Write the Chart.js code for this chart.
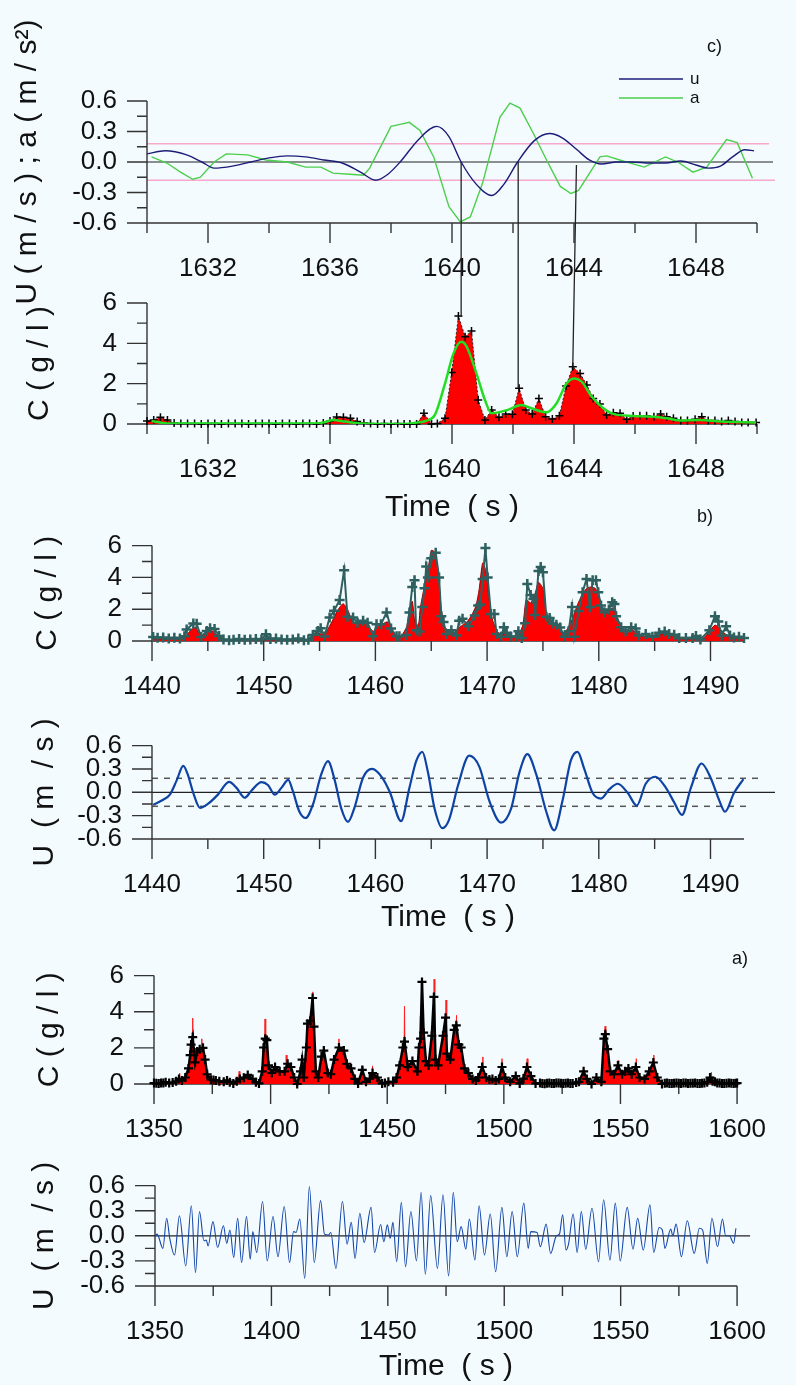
<!DOCTYPE html>
<html lang="en">
<head>
<meta charset="UTF-8">
<title>C and U time series</title>
<script src="https://cdn.jsdelivr.net/npm/chart.js"></script>
<style>
  body { margin: 0; background: #f3fbfe; }
  #fig { position: relative; width: 796px; height: 1385px; overflow: hidden; background: #f3fbfe; }
  #fig canvas { position: absolute; left: 0; }
</style>
</head>
<body>
<div id="fig">
  <canvas id="cU" width="796" height="330" style="top:0px"></canvas>
  <canvas id="cC" width="796" height="400" style="top:140px"></canvas>
  <canvas id="bC" width="796" height="210" style="top:500px"></canvas>
  <canvas id="bU" width="796" height="240" style="top:700px"></canvas>
  <canvas id="aC" width="796" height="220" style="top:930px"></canvas>
  <canvas id="aU" width="796" height="245" style="top:1140px"></canvas>
</div>
<script>
// ---------- panel c) 1630-1650 s ----------
const uTimesC = [1630.0, 1630.6, 1631.3, 1631.8, 1632.2, 1632.8, 1633.4, 1634.0, 1634.6, 1635.2, 1635.8, 1636.4, 1637.0, 1637.5, 1637.9, 1638.3, 1638.9, 1639.5, 1639.9, 1640.3, 1640.8, 1641.3, 1641.7, 1642.15, 1642.7, 1643.2, 1643.6, 1644.1, 1644.5, 1644.9, 1645.4, 1645.9, 1646.5, 1647.0, 1647.5, 1648.0, 1648.4, 1648.8, 1649.2, 1649.6, 1649.9];
const uValsC = [0.08, 0.11, 0.07, 0.0, -0.06, -0.04, 0.0, 0.04, 0.06, 0.05, 0.02, -0.01, -0.1, -0.18, -0.12, 0.0, 0.22, 0.35, 0.25, 0.0, -0.22, -0.33, -0.22, 0.0, 0.21, 0.28, 0.24, 0.12, 0.02, -0.02, 0.0, 0.0, -0.01, -0.01, 0.01, -0.03, -0.06, -0.04, 0.05, 0.12, 0.11];
const aTimesC = [1630.15, 1630.65, 1631.1, 1631.5, 1631.75, 1632.2, 1632.6, 1633.3, 1633.9, 1634.6, 1635.2, 1635.7, 1636.1, 1636.65, 1637.1, 1637.3, 1638.0, 1638.3, 1638.6, 1638.95, 1639.4, 1639.9, 1640.27, 1640.6, 1641.0, 1641.57, 1641.9, 1642.23, 1642.67, 1643.1, 1643.55, 1643.9, 1644.15, 1644.85, 1645.07, 1645.5, 1646.3, 1647.0, 1647.4, 1647.9, 1648.35, 1649.0, 1649.35, 1649.85];
const aValsC = [0.05, -0.01, -0.1, -0.17, -0.15, 0.0, 0.08, 0.07, 0.02, 0.0, -0.05, -0.05, -0.11, -0.12, -0.13, -0.06, 0.35, 0.37, 0.39, 0.31, 0.05, -0.44, -0.59, -0.54, -0.21, 0.44, 0.58, 0.53, 0.28, 0.02, -0.24, -0.31, -0.28, 0.05, 0.06, 0.02, -0.05, 0.05, 0.0, -0.1, -0.05, 0.22, 0.19, -0.16];
const cTimesC = [1630.0, 1630.22, 1630.44, 1630.67, 1630.89, 1631.11, 1631.33, 1631.56, 1631.78, 1632.0, 1632.22, 1632.44, 1632.67, 1632.89, 1633.11, 1633.33, 1633.56, 1633.78, 1634.0, 1634.22, 1634.44, 1634.67, 1634.89, 1635.11, 1635.33, 1635.56, 1635.78, 1636.0, 1636.22, 1636.44, 1636.67, 1636.89, 1637.11, 1637.33, 1637.56, 1637.78, 1638.0, 1638.22,
  1638.43, 1638.62, 1638.84, 1639.08, 1639.33, 1639.52, 1639.77, 1639.99, 1640.21, 1640.43, 1640.64, 1640.86, 1641.08, 1641.30, 1641.54, 1641.76, 1641.98, 1642.20, 1642.42, 1642.63, 1642.85, 1643.07, 1643.29, 1643.52, 1643.74, 1643.96, 1644.20, 1644.42, 1644.63, 1644.85, 1645.07, 1645.29, 1645.51, 1645.73, 1645.94, 1646.16, 1646.38, 1646.62, 1646.84, 1647.04, 1647.26, 1647.50, 1647.72, 1647.97, 1648.19, 1648.40, 1648.62, 1648.84, 1649.06, 1649.28, 1649.50, 1649.71, 1649.97];
const cValsC = [0.15, 0.2, 0.33, 0.2, 0.05, 0.02, 0.03, 0.02, 0.0, 0.03, 0.02, 0.0, 0.03, 0.02, 0.03, 0.0, 0.02, 0.03, 0.02, 0.0, 0.03, 0.02, 0.0, 0.02, 0.03, 0.0, 0.05, 0.15, 0.35, 0.33, 0.28, 0.12, 0.05, 0.02, 0.0, 0.02, 0.0, 0.02,
  0.0, 0.0, 0.0, 0.53, 0.0, 0.03, 0.28, 2.55, 5.35, 4.33, 4.61, 1.19, 0.2, 0.69, 0.33, 0.5, 0.48, 1.77, 0.69, 0.5, 1.27, 0.36, 0.25, 0.41, 1.88, 2.84, 2.51, 1.93, 1.27, 0.99, 0.45, 0.56, 0.53, 0.23, 0.4, 0.41, 0.41, 0.36, 0.5, 0.36, 0.28, 0.17, 0.17, 0.23, 0.36, 0.17, 0.17, 0.12, 0.17, 0.12, 0.08, 0.08, 0.08];
const smoothTimesC = [1630.15, 1630.75, 1631.5, 1632.5, 1633.5, 1634.5, 1635.5, 1635.8, 1636.1, 1636.5, 1637.0, 1638.3, 1638.9, 1639.17, 1639.44, 1639.77, 1640.05, 1640.3, 1640.48, 1640.8, 1641.08, 1641.3, 1641.8, 1642.28, 1642.6, 1643.1, 1643.43, 1643.76, 1644.03, 1644.25, 1644.58, 1644.96, 1645.29, 1645.94, 1646.6, 1647.04, 1647.48, 1648.13, 1648.8, 1649.97];
const smoothValsC = [0.15, 0.02, 0.02, 0.02, 0.02, 0.02, 0.03, 0.08, 0.2, 0.12, 0.03, 0.0, 0.08, 0.17, 0.45, 2.0, 3.5, 4.08, 3.84, 2.51, 1.19, 0.53, 0.69, 0.94, 0.78, 0.58, 1.03, 2.02, 2.26, 2.1, 1.36, 0.78, 0.5, 0.4, 0.36, 0.28, 0.17, 0.2, 0.12, 0.08];
// vertical links: time at the u/a panel, time at the C panel, u level, C level
const linkTimesTop = [1640.3, 1642.17, 1644.08];
const linkTimesBottom = [1640.3, 1642.17, 1643.96];
const linkU = [0, 0, -0.03];
const linkC = [5.3, 1.78, 2.84];
const xLabelsC = [1632, 1636, 1640, 1644, 1648];
const xMinorC = [1630, 1634, 1638, 1642, 1646, 1650];

// ---------- panel b) 1440-1493 s ----------
const teTimesB = [1440.1, 1440.5, 1441.0, 1441.5, 1442.0, 1442.5, 1442.9, 1443.1, 1443.7, 1444.0, 1444.4, 1444.9, 1445.2, 1445.6, 1446.0, 1446.4, 1446.9, 1447.3, 1447.8, 1448.3, 1448.8, 1449.3, 1449.8, 1450.2, 1450.6, 1451.1, 1451.6, 1452.1, 1452.6, 1453.1, 1453.6, 1454.0, 1454.4, 1454.85, 1455.1, 1455.45, 1455.9, 1456.3, 1456.8, 1457.2, 1457.5, 1458.0, 1458.4, 1458.9, 1459.3, 1459.8, 1460.1, 1460.5, 1461.0, 1461.4, 1461.9, 1462.15, 1462.75, 1463.05, 1463.3, 1463.5, 1463.65, 1463.95, 1464.2, 1464.4, 1464.55, 1464.7, 1465.0, 1465.4, 1465.7, 1465.9, 1466.1, 1466.35, 1466.8, 1467.25, 1467.5, 1467.8, 1468.3, 1468.9, 1469.2, 1469.4, 1469.6, 1469.85, 1470.05, 1470.35, 1470.65, 1470.85, 1471.25, 1471.5, 1471.75, 1472.15, 1472.6, 1472.8, 1473.1, 1473.4, 1473.6, 1473.9, 1474.15, 1474.3, 1474.6, 1474.8, 1475.0, 1475.3, 1475.6, 1475.9, 1476.2, 1476.55, 1476.9, 1477.3, 1477.6, 1477.8, 1478.2, 1478.55, 1478.9, 1479.2, 1479.45, 1479.75, 1479.95, 1480.2, 1480.5, 1480.9, 1481.2, 1481.4, 1481.55, 1482.0, 1482.4, 1482.9, 1483.3, 1483.6, 1484.2, 1484.8, 1485.4, 1485.9, 1486.3, 1486.75, 1487.2, 1487.8, 1488.4, 1488.7, 1489.1, 1489.9, 1490.4, 1490.7, 1491.0, 1491.4, 1491.75, 1492.1, 1492.55, 1493.0];
const teValsB = [0.25, 0.2, 0.22, 0.15, 0.2, 0.15, 0.3, 0.73, 1.1, 1.08, 0.25, 0.63, 0.8, 0.75, 0.32, 0.1, 0.05, 0.08, 0.12, 0.08, 0.1, 0.12, 0.1, 0.42, 0.12, 0.15, 0.1, 0.08, 0.1, 0.15, 0.05, 0.08, 0.38, 0.63, 0.8, 0.29, 1.48, 1.9, 2.58, 4.45, 1.53, 1.48, 1.15, 1.27, 1.15, 0.3, 1.05, 1.05, 1.8, 0.78, 0.3, 0.3, 0.38, 1.8, 3.4, 3.82, 0.68, 0.6, 2.14, 3.32, 4.68, 4.0, 5.2, 5.55, 4.0, 1.55, 1.2, 0.44, 0.68, 0.35, 1.28, 1.4, 0.93, 1.6, 2.24, 2.3, 3.9, 5.85, 4.0, 1.7, 1.7, 0.44, 0.27, 0.86, 0.52, 0.27, 0.27, 0.61, 0.19, 1.12, 3.58, 2.9, 2.64, 1.63, 4.4, 4.66, 4.32, 1.53, 1.44, 1.1, 1.02, 0.85, 0.27, 0.61, 2.14, 0.27, 1.88, 3.07, 3.9, 2.14, 3.82, 3.82, 3.07, 2.23, 1.81, 1.98, 2.44, 2.32, 1.56, 0.86, 0.61, 0.86, 0.78, 0.35, 0.44, 0.27, 0.52, 0.6, 0.44, 0.39, 0.19, 0.19, 0.19, 0.32, 0.1, 0.68, 1.56, 1.22, 0.35, 0.93, 0.35, 0.22, 0.27, 0.19];
const redTimesB = [1440.0, 1441.0, 1442.0, 1443.0, 1443.5, 1443.9, 1444.3, 1444.7, 1445.1, 1445.5, 1446.0, 1446.5, 1448.0, 1450.0, 1450.2, 1450.5, 1452.0, 1454.0, 1454.2, 1454.7, 1455.2, 1455.6, 1456.1, 1456.6, 1457.1, 1457.5, 1457.9, 1458.3, 1458.8, 1459.3, 1459.8, 1460.2, 1460.7, 1461.1, 1461.5, 1461.9, 1462.3, 1462.8, 1463.0, 1463.3, 1463.6, 1463.9, 1464.0, 1464.4, 1464.8, 1465.0, 1465.3, 1465.6, 1465.9, 1466.2, 1466.6, 1467.0, 1467.4, 1467.8, 1468.2, 1468.6, 1469.0, 1469.3, 1469.6, 1469.9, 1470.2, 1470.5, 1470.9, 1471.3, 1471.8, 1472.3, 1472.8, 1473.2, 1473.5, 1473.9, 1474.3, 1474.6, 1475.0, 1475.3, 1475.7, 1476.1, 1476.5, 1476.9, 1477.3, 1477.7, 1478.1, 1478.5, 1478.9, 1479.3, 1479.7, 1480.1, 1480.5, 1480.9, 1481.2, 1481.6, 1482.0, 1482.5, 1483.0, 1483.5, 1484.0, 1484.6, 1485.2, 1485.8, 1486.4, 1487.0, 1487.6, 1488.2, 1488.8, 1489.4, 1489.9, 1490.4, 1490.8, 1491.2, 1491.7, 1492.2, 1493.0];
const redValsB = [0.15, 0.12, 0.15, 0.3, 0.7, 0.85, 0.4, 0.4, 0.65, 0.6, 0.25, 0.1, 0.06, 0.08, 0.3, 0.08, 0.06, 0.08, 0.2, 0.5, 0.45, 0.6, 1.2, 1.9, 2.35, 2.0, 1.3, 1.0, 1.2, 1.0, 0.6, 0.9, 1.1, 1.2, 0.7, 0.3, 0.3, 0.9, 1.8, 2.5, 0.8, 1.2, 2.0, 3.5, 4.9, 5.7, 5.6, 4.5, 2.0, 0.9, 0.6, 0.5, 0.8, 1.0, 1.2, 1.6, 2.2, 3.3, 4.9, 4.4, 2.5, 1.3, 0.6, 0.4, 0.5, 0.3, 0.4, 1.0, 2.6, 2.4, 3.0, 3.7, 3.3, 1.8, 1.3, 1.0, 0.8, 0.5, 0.9, 1.5, 2.3, 2.9, 3.3, 3.4, 3.3, 2.6, 1.8, 1.8, 2.1, 1.6, 0.9, 0.5, 0.7, 0.4, 0.3, 0.3, 0.35, 0.45, 0.35, 0.2, 0.1, 0.1, 0.15, 0.2, 0.6, 1.0, 0.8, 0.5, 0.3, 0.2, 0.2];
const uTimesB = [1440.1, 1441.0, 1441.6, 1442.2, 1442.8, 1443.2, 1443.7, 1444.3, 1445.0, 1445.9, 1446.9, 1447.55, 1448.3, 1448.9, 1449.8, 1450.4, 1451.0, 1451.6, 1452.2, 1452.6, 1453.2, 1453.75, 1454.4, 1455.15, 1455.75, 1456.35, 1456.95, 1457.55, 1458.1, 1458.9, 1459.7, 1460.65, 1461.3, 1462.3, 1463.05, 1463.65, 1464.2, 1464.7, 1465.3, 1466.0, 1466.6, 1467.4, 1468.4, 1469.3, 1470.2, 1471.25, 1472.15, 1472.9, 1473.6, 1474.4, 1475.3, 1476.0, 1476.75, 1477.5, 1478.1, 1478.7, 1479.45, 1480.2, 1480.95, 1481.7, 1482.6, 1483.4, 1484.2, 1485.05, 1486.0, 1486.75, 1487.45, 1488.25, 1489.2, 1490.0, 1490.8, 1491.3, 1492.1, 1492.95];
const uValsB = [-0.16, -0.095, -0.03, 0.15, 0.34, 0.23, -0.01, -0.2, -0.15, -0.03, 0.135, 0.06, -0.07, 0.02, 0.13, 0.09, -0.03, 0.06, 0.16, 0.02, -0.25, -0.33, -0.16, 0.23, 0.4, 0.16, -0.21, -0.38, -0.21, 0.19, 0.3, 0.18, 0.0, -0.37, 0.06, 0.4, 0.52, 0.26, -0.21, -0.46, -0.35, 0.09, 0.47, 0.33, -0.11, -0.39, -0.21, 0.26, 0.49, 0.23, -0.25, -0.49, -0.11, 0.41, 0.52, 0.3, -0.01, -0.08, 0.04, 0.11, -0.01, -0.17, 0.11, 0.2, 0.06, -0.13, -0.29, 0.06, 0.37, 0.19, -0.11, -0.25, -0.01, 0.17];
const xLabelsB = [1440, 1450, 1460, 1470, 1480, 1490];
const xMinorB = [1445, 1455, 1465, 1475, 1485];

// ---------- panel a) 1350-1600 s ----------
const blackTimesA = [1350.0, 1351.0, 1352.0, 1353.0, 1354.0, 1355.0, 1356.5, 1358.0, 1359.5, 1360.7, 1362.0, 1363.4, 1364.8, 1365.5, 1365.9, 1366.6, 1367.1, 1367.6, 1368.5, 1369.6, 1371.0, 1371.9, 1372.8, 1374.4, 1375.5, 1376.5, 1378.0, 1379.9, 1381.3, 1382.5, 1384.0, 1385.5, 1386.8, 1388.5, 1390.2, 1392.3, 1393.7, 1395.0, 1396.4, 1397.0, 1397.7, 1398.4, 1399.1, 1400.5, 1401.9, 1403.9, 1406.0, 1407.3, 1408.7, 1410.1, 1411.4, 1412.8, 1413.5, 1414.2, 1415.3, 1415.8, 1417.0, 1418.0, 1418.6, 1419.4, 1420.4, 1421.8, 1422.8, 1424.5, 1425.8, 1427.2, 1429.3, 1431.4, 1432.7, 1434.5, 1436.1, 1437.5, 1439.3, 1440.9, 1442.5, 1443.7, 1445.8, 1447.8, 1449.0, 1450.5, 1452.5, 1454.0, 1455.3, 1456.7, 1457.4, 1458.8, 1460.8, 1462.9, 1463.6, 1464.3, 1464.9, 1465.6, 1466.6, 1467.7, 1469.1, 1470.0, 1470.7, 1471.8, 1473.9, 1475.0, 1475.6, 1477.0, 1478.7, 1479.6, 1480.7, 1481.7, 1483.1, 1484.8, 1486.6, 1488.0, 1489.0, 1490.7, 1492.4, 1493.8, 1495.1, 1496.5, 1497.9, 1499.2, 1500.6, 1502.7, 1505.1, 1506.8, 1508.4, 1509.9, 1511.6, 1513.6, 1515.5, 1516.5, 1517.5, 1518.5, 1519.5, 1520.5, 1521.5, 1522.5, 1523.5, 1524.5, 1525.5, 1526.5, 1527.5, 1528.5, 1529.5, 1531.0, 1532.2, 1534.2, 1535.6, 1537.6, 1539.7, 1541.8, 1542.9, 1543.5, 1544.5, 1545.6, 1547.2, 1548.9, 1550.7, 1552.0, 1553.4, 1554.8, 1556.6, 1558.2, 1560.3, 1562.3, 1564.1, 1565.8, 1567.8, 1569.0, 1570.0, 1571.0, 1572.0, 1573.0, 1574.0, 1575.0, 1576.0, 1577.0, 1578.0, 1579.0, 1580.0, 1581.0, 1582.0, 1583.0, 1584.0, 1585.0, 1586.0, 1587.2, 1588.4, 1589.5, 1590.5, 1591.5, 1592.5, 1593.5, 1594.5, 1595.5, 1596.5, 1597.5, 1598.5, 1599.3, 1600.0];
const blackValsA = [0.05, 0.04, 0.03, 0.05, 0.05, 0.1, 0.05, 0.08, 0.15, 0.28, 0.2, 0.36, 0.86, 1.6, 2.18, 2.6, 1.8, 1.2, 1.8, 1.93, 2.0, 1.35, 0.54, 0.24, 0.22, 0.2, 0.15, 0.12, 0.2, 0.1, 0.03, 0.15, 0.28, 0.35, 0.5, 0.28, 0.1, 0.03, 0.7, 2.02, 2.51, 2.43, 1.03, 0.61, 0.94, 0.7, 0.7, 1.12, 0.94, 0.36, 0.0, 0.7, 1.35, 0.36, 2.02, 3.34, 3.5, 4.76, 3.18, 0.7, 0.36, 1.52, 1.85, 0.61, 0.54, 1.35, 2.02, 1.85, 1.12, 0.86, 0.28, 0.03, 0.78, 0.12, 0.3, 0.61, 0.36, 0.03, 0.06, 0.12, 0.1, 0.36, 1.03, 2.02, 2.35, 0.94, 1.27, 0.7, 2.02, 2.51, 5.65, 2.84, 1.27, 1.03, 2.67, 4.82, 1.35, 1.03, 2.67, 3.67, 1.68, 1.35, 3.0, 3.25, 2.18, 2.02, 0.86, 0.61, 0.28, 0.2, 0.36, 0.94, 0.36, 0.25, 0.28, 0.2, 0.28, 0.94, 0.36, 0.12, 0.44, 0.03, 0.3, 0.94, 0.44, 0.03, 0.05, 0.03, 0.02, 0.04, 0.05, 0.03, 0.03, 0.05, 0.05, 0.04, 0.03, 0.04, 0.05, 0.03, 0.03, 0.08, 0.12, 0.7, 0.28, 0.0, 0.36, 0.12, 2.51, 2.76, 1.93, 0.7, 0.54, 1.03, 0.54, 0.7, 0.86, 0.54, 0.94, 0.36, 0.28, 0.7, 1.19, 0.36, 0.0, 0.04, 0.05, 0.03, 0.03, 0.04, 0.05, 0.04, 0.03, 0.05, 0.05, 0.03, 0.04, 0.04, 0.05, 0.03, 0.03, 0.04, 0.05, 0.1, 0.36, 0.15, 0.12, 0.06, 0.05, 0.03, 0.03, 0.04, 0.05, 0.04, 0.03, 0.04, 0.05];
const spikeTimesA = [1360.8, 1361.0, 1361.2, 1366.3, 1366.6, 1366.9, 1370.2, 1370.5, 1370.8, 1386.2, 1386.5, 1386.8, 1397.3, 1397.6, 1397.9, 1406.4, 1406.7, 1407.0, 1417.8, 1418.1, 1418.4, 1429.0, 1429.3, 1429.6, 1439.0, 1439.3, 1439.6, 1443.4, 1443.7, 1444.0, 1457.1, 1457.4, 1457.7, 1463.9, 1464.2, 1464.5, 1464.8, 1465.1, 1465.4, 1469.8, 1470.1, 1470.4, 1474.9, 1475.2, 1475.5, 1479.4, 1479.7, 1480.0, 1490.7, 1491.0, 1491.3, 1498.9, 1499.2, 1499.5, 1509.7, 1510.0, 1510.3, 1543.1, 1543.4, 1543.7, 1548.7, 1549.0, 1549.3, 1556.5, 1556.8, 1557.1, 1564.0, 1564.3, 1564.6, 1588.7, 1589.0, 1589.3];
const spikeValsA = [0, 0.6, 0, 0, 3.65, 0, 0, 2.5, 0, 0, 0.7, 0, 0, 3.6, 0, 0, 1.6, 0, 0, 5.1, 0, 0, 2.5, 0, 0, 1.0, 0, 0, 1.0, 0, 0, 4.3, 0, 0, 3.75, 0, 0, 5.8, 0, 0, 5.8, 0, 0, 4.65, 0, 0, 3.8, 0, 0, 1.5, 0, 0, 1.4, 0, 0, 1.4, 0, 0, 3.2, 0, 0, 1.3, 0, 0, 1.4, 0, 0, 1.6, 0, 0, 0.65, 0];
const uTimesA = [1350.2, 1350.9, 1353.4, 1355.0, 1356.4, 1358.4, 1360.5, 1363.2, 1365.6, 1367.4, 1369.1, 1371.0, 1372.0, 1372.8, 1374.9, 1376.9, 1379.4, 1380.8, 1382.2, 1383.8, 1385.5, 1387.2, 1389.3, 1390.9, 1392.0, 1393.7, 1396.2, 1398.2, 1400.7, 1402.8, 1405.5, 1407.8, 1409.5, 1410.6, 1412.2, 1414.3, 1416.3, 1418.4, 1421.1, 1422.8, 1424.5, 1425.5, 1427.7, 1430.5, 1432.5, 1434.3, 1435.9, 1438.0, 1439.8, 1442.8, 1444.3, 1446.9, 1448.3, 1449.8, 1451.0, 1452.2, 1453.8, 1455.8, 1457.6, 1459.9, 1462.3, 1464.3, 1466.1, 1468.4, 1471.3, 1473.7, 1476.1, 1478.1, 1479.8, 1481.5, 1483.5, 1485.0, 1487.4, 1489.2, 1491.5, 1494.0, 1496.3, 1499.0, 1501.1, 1503.4, 1505.6, 1508.4, 1510.3, 1511.4, 1514.1, 1515.5, 1518.0, 1519.9, 1522.4, 1523.7, 1525.1, 1526.5, 1527.6, 1529.6, 1531.3, 1533.1, 1535.0, 1537.7, 1540.5, 1542.7, 1545.4, 1547.7, 1549.8, 1552.8, 1555.3, 1557.3, 1559.7, 1562.6, 1564.2, 1566.5, 1567.9, 1569.0, 1571.5, 1572.4, 1573.8, 1576.1, 1578.6, 1581.6, 1583.8, 1585.2, 1587.2, 1589.2, 1591.6, 1593.7, 1595.1, 1596.7, 1598.5, 1599.5];
const uValsA = [0.0, 0.02, -0.15, 0.21, -0.04, -0.23, 0.24, -0.36, 0.36, -0.44, 0.29, -0.06, -0.05, -0.12, 0.17, -0.14, 0.12, -0.09, 0.07, -0.26, 0.21, -0.32, 0.23, -0.28, 0.05, -0.2, 0.41, -0.3, 0.23, -0.25, 0.35, -0.32, 0.05, 0.04, 0.2, -0.51, 0.59, -0.32, 0.42, 0.02, 0.01, 0.04, -0.39, 0.41, -0.1, 0.16, -0.27, 0.27, -0.08, 0.34, -0.2, 0.135, -0.07, 0.13, -0.03, 0.16, -0.31, 0.40, -0.37, 0.29, -0.30, 0.52, -0.46, 0.48, -0.39, 0.49, -0.48, 0.52, -0.07, 0.11, -0.16, 0.20, -0.29, 0.36, -0.23, 0.26, -0.43, 0.34, -0.25, 0.29, -0.25, 0.39, -0.15, 0.05, 0.04, -0.13, 0.14, -0.21, 0.0, 0.02, 0.25, -0.17, -0.10, 0.26, -0.20, 0.29, -0.16, 0.33, -0.31, 0.43, -0.29, 0.39, -0.30, 0.34, -0.16, 0.21, -0.17, 0.37, -0.20, 0.10, 0.07, -0.15, 0.08, 0.0, 0.14, -0.25, 0.18, -0.21, 0.09, 0.07, -0.33, 0.21, -0.13, 0.20, 0.0, 0.0, -0.09, 0.09];
const xLabelsA = [1350, 1400, 1450, 1500, 1550, 1600];
const xMinorA = [1375, 1425, 1475, 1525, 1575];

// shared y ticks
const cLabels = [0, 2, 4, 6];
const cMinor = [1, 3, 5];
const uLabels = [-0.6, -0.3, 0, 0.3, 0.6];
const uMinor = [-0.45, -0.15, 0.15, 0.45];

Chart.defaults.font.family = '"Liberation Sans", Arial, sans-serif';
Chart.defaults.color = '#111';

function pts(ts, vs) { return ts.map((t, i) => ({ x: t, y: vs[i] })); }

// axis lines, tick marks and reference lines
const framePlugin = {
  id: 'frame',
  beforeDatasetsDraw(chart, args, o) {
    const { ctx, chartArea: a } = chart;
    const x = chart.scales.x, y = chart.scales.y;
    ctx.save();
    (o.hlines || []).forEach(h => {
      const py = y.getPixelForValue(h.value);
      ctx.beginPath();
      ctx.setLineDash(h.dash || []);
      ctx.strokeStyle = h.color;
      ctx.lineWidth = h.width || 1;
      ctx.moveTo(a.left, py);
      ctx.lineTo(a.right + (h.over || 0), py);
      ctx.stroke();
    });
    ctx.setLineDash([]);
    ctx.strokeStyle = '#333';
    ctx.lineWidth = 1.4;
    ctx.beginPath();
    ctx.moveTo(a.left, a.top);
    ctx.lineTo(a.left, a.bottom);
    ctx.lineTo(a.right, a.bottom);
    o.xMajor.forEach(v => { const p = x.getPixelForValue(v); ctx.moveTo(p, a.bottom); ctx.lineTo(p, a.bottom + 20); });
    o.xMinor.forEach(v => { const p = x.getPixelForValue(v); ctx.moveTo(p, a.bottom); ctx.lineTo(p, a.bottom + 10); });
    o.yMajor.forEach(v => { const p = y.getPixelForValue(v); ctx.moveTo(a.left - 20, p); ctx.lineTo(a.left, p); });
    o.yMinor.forEach(v => { const p = y.getPixelForValue(v); ctx.moveTo(a.left - 10, p); ctx.lineTo(a.left, p); });
    ctx.stroke();
    ctx.restore();
  }
};

// panel tags and the small legend
const notesPlugin = {
  id: 'notes',
  afterDraw(chart, args, o) {
    const ctx = chart.ctx;
    ctx.save();
    ctx.fillStyle = '#111';
    ctx.textBaseline = 'middle';
    (o.items || []).forEach(n => {
      ctx.font = n.size + 'px "Liberation Sans", Arial, sans-serif';
      ctx.fillText(n.text, n.x, n.y);
    });
    (o.legend || []).forEach(l => {
      const ds = chart.data.datasets[l.index];
      ctx.strokeStyle = ds.borderColor;
      ctx.lineWidth = 1.6;
      ctx.beginPath();
      ctx.moveTo(l.x1, l.y);
      ctx.lineTo(l.x2, l.y);
      ctx.stroke();
      ctx.font = '17px "Liberation Sans", Arial, sans-serif';
      ctx.fillText(ds.label, l.x2 + 7, l.y);
    });
    ctx.restore();
  }
};

function makeChart(id, g, datasets, plug, extra) {
  const canvas = document.getElementById(id);
  const top = parseInt(canvas.style.top, 10);
  return new Chart(canvas, {
    type: 'line',
    data: { datasets },
    options: {
      responsive: false,
      animation: false,
      devicePixelRatio: 1,
      layout: { padding: { left: 0, top: g.Y0 - top, right: 796 - g.R, bottom: top + canvas.height - g.Y1 - g.xH } },
      plugins: { legend: { display: false }, tooltip: { enabled: false }, frame: plug, notes: extra || {} },
      scales: {
        x: {
          type: 'linear', min: g.xMin, max: g.xMax,
          grid: { display: false, drawTicks: false },
          border: { display: false },
          ticks: { padding: 30, font: { size: 26 }, color: '#111', autoSkip: false, maxRotation: 0, callback: v => String(v) },
          afterBuildTicks: s => { s.ticks = g.xLabels.map(v => ({ value: v })); },
          afterFit: s => { s.height = g.xH; },
          title: g.xTitle ? { display: true, text: g.xTitle, color: '#111', font: { size: 30 }, padding: { top: 0, bottom: 0 } } : { display: false }
        },
        y: {
          type: 'linear', min: g.yMin, max: g.yMax,
          grid: { display: false, drawTicks: false },
          border: { display: false },
          ticks: { padding: 30, font: { size: 26 }, color: '#111', autoSkip: false, callback: g.fmt },
          afterBuildTicks: s => { s.ticks = g.yLabels.map(v => ({ value: v })); },
          afterFit: s => { s.width = g.L; },
          title: { display: true, text: g.yTitle, color: '#111', font: { size: 30 }, padding: { top: g.yTitlePad, bottom: 0 } }
        }
      }
    },
    plugins: [framePlugin, notesPlugin, ...(g.more || [])]
  });
}

const fmtU = v => v.toFixed(1);
const fmtC = v => String(v);

// c) u and a
const chartCU = makeChart('cU',
  { L: 147, R: 757, Y0: 101, Y1: 223, xH: 60, xMin: 1630, xMax: 1650, yMin: -0.6, yMax: 0.6,
    xLabels: xLabelsC, yLabels: uLabels, fmt: fmtU, yTitle: 'U ( m / s ) ; a ( m / s\u00B2)', yTitlePad: 10 },
  [
    { label: 'u', data: pts(uTimesC, uValsC), borderColor: '#1c1c78', borderWidth: 1.4, pointRadius: 0, cubicInterpolationMode: 'monotone' },
    { label: 'a', data: pts(aTimesC, aValsC), borderColor: '#4ccf4c', borderWidth: 1.4, pointRadius: 0, tension: 0 }
  ],
  { xMajor: xLabelsC, xMinor: xMinorC, yMajor: uLabels, yMinor: uMinor,
    hlines: [
      { value: 0.18, color: '#f7a8cc', width: 1.5, over: 12 },
      { value: -0.18, color: '#f7a8cc', width: 1.5, over: 18 },
      { value: 0, color: '#222', width: 1.2, over: 16 }
    ] },
  { items: [{ text: 'c)', x: 707, y: 47, size: 18 }],
    legend: [{ index: 0, x1: 619, x2: 683, y: 79 }, { index: 1, x1: 619, x2: 683, y: 98 }] }
);

// vertical links from the u/a zero line down to the C peaks
const linksPlugin = {
  id: 'links',
  afterDatasetsDraw(chart) {
    const ctx = chart.ctx;
    const shift = parseInt(chart.canvas.style.top, 10) - parseInt(chartCU.canvas.style.top, 10);
    ctx.save();
    ctx.strokeStyle = '#222';
    ctx.lineWidth = 1.3;
    ctx.beginPath();
    linkTimesTop.forEach((t, i) => {
      ctx.moveTo(chartCU.scales.x.getPixelForValue(t), chartCU.scales.y.getPixelForValue(linkU[i]) - shift);
      ctx.lineTo(chart.scales.x.getPixelForValue(linkTimesBottom[i]), chart.scales.y.getPixelForValue(linkC[i]));
    });
    ctx.stroke();
    ctx.restore();
  }
};

// c) concentration
makeChart('cC',
  { L: 147, R: 757, Y0: 303, Y1: 424, xH: 102, xMin: 1630, xMax: 1650, yMin: 0, yMax: 6,
    xLabels: xLabelsC, yLabels: cLabels, fmt: fmtC, yTitle: 'C ( g / l )', yTitlePad: 22, xTitle: 'Time  ( s )', more: [linksPlugin] },
  [
    { data: pts(smoothTimesC, smoothValsC), borderColor: '#22dd22', borderWidth: 2.5, pointRadius: 0, cubicInterpolationMode: 'monotone' },
    { data: pts(cTimesC, cValsC), borderColor: '#222', borderWidth: 1, borderDash: [2, 2], fill: 'origin', backgroundColor: '#ff0000',
      pointStyle: 'cross', pointRadius: 4, pointBorderColor: '#000', pointBorderWidth: 1.5, clip: false }
  ],
  { xMajor: xLabelsC, xMinor: xMinorC, yMajor: cLabels, yMinor: cMinor }
);

// b) concentration
makeChart('bC',
  { L: 152, R: 744, Y0: 523, Y1: 641, xH: 60, xMin: 1440, xMax: 1493, yMin: 0, yMax: 6,
    xLabels: xLabelsB, yLabels: cLabels, fmt: fmtC, yTitle: 'C ( g / l )', yTitlePad: 30 },
  [
    { data: pts(teTimesB, teValsB), borderColor: '#2f6060', borderWidth: 2, pointStyle: 'cross', pointRadius: 5,
      pointBorderColor: '#2f6060', pointBorderWidth: 2.5, tension: 0, clip: false },
    { data: pts(redTimesB, redValsB), borderColor: '#9a0000', borderWidth: 1, fill: 'origin', backgroundColor: '#ff0000', pointRadius: 0, tension: 0.2 }
  ],
  { xMajor: xLabelsB, xMinor: xMinorB, yMajor: cLabels, yMinor: cMinor },
  { items: [{ text: 'b)', x: 697, y: 17, size: 18 }] }
);

// b) velocity
makeChart('bU',
  { L: 152, R: 744, Y0: 721, Y1: 839, xH: 97, xMin: 1440, xMax: 1493, yMin: -0.6, yMax: 0.6,
    xLabels: xLabelsB, yLabels: uLabels, fmt: fmtU, yTitle: 'U  ( m  / s )', yTitlePad: 27, xTitle: 'Time  ( s )' },
  [
    { data: pts(uTimesB, uValsB), borderColor: '#0f43a3', borderWidth: 2.2, pointRadius: 0, cubicInterpolationMode: 'monotone' }
  ],
  { xMajor: xLabelsB, xMinor: xMinorB, yMajor: uLabels, yMinor: uMinor,
    hlines: [
      { value: 0.18, color: '#555', width: 1.5, dash: [6, 6], over: 14 },
      { value: -0.18, color: '#555', width: 1.5, dash: [6, 6], over: 4 },
      { value: 0, color: '#222', width: 1.2, over: 31 }
    ] }
);

// a) concentration
makeChart('aC',
  { L: 154, R: 762, Y0: 963, Y1: 1084, xH: 60, xMin: 1350, xMax: 1600, yMin: 0, yMax: 6,
    xLabels: xLabelsA, yLabels: cLabels, fmt: fmtC, yTitle: 'C ( g / l )', yTitlePad: 32 },
  [
    { data: pts(blackTimesA, blackValsA), borderColor: '#000', borderWidth: 2.5, fill: 'origin', backgroundColor: '#ff0000',
      pointStyle: 'cross', pointRadius: 4.5, pointBorderColor: '#000', pointBorderWidth: 2.2, tension: 0, clip: false },
    { data: pts(spikeTimesA, spikeValsA), borderColor: '#ff2020', borderWidth: 1, fill: 'origin', backgroundColor: '#ff0000', pointRadius: 0, tension: 0 }
  ],
  { xMajor: xLabelsA, xMinor: xMinorA, yMajor: cLabels, yMinor: cMinor },
  { items: [{ text: 'a)', x: 732, y: 29, size: 18 }] }
);

// a) velocity
makeChart('aU',
  { L: 155, R: 762, Y0: 1164, Y1: 1286, xH: 99, xMin: 1350, xMax: 1600, yMin: -0.6, yMax: 0.6,
    xLabels: xLabelsA, yLabels: uLabels, fmt: fmtU, yTitle: 'U  ( m  / s )', yTitlePad: 27, xTitle: 'Time  ( s )' },
  [
    { data: pts(uTimesA, uValsA), borderColor: '#1446aa', borderWidth: 1.1, pointRadius: 0, cubicInterpolationMode: 'monotone' }
  ],
  { xMajor: xLabelsA, xMinor: xMinorA, yMajor: uLabels, yMinor: uMinor,
    hlines: [{ value: 0, color: '#222', width: 1.2, over: 13 }] }
);
</script>
</body>
</html>
